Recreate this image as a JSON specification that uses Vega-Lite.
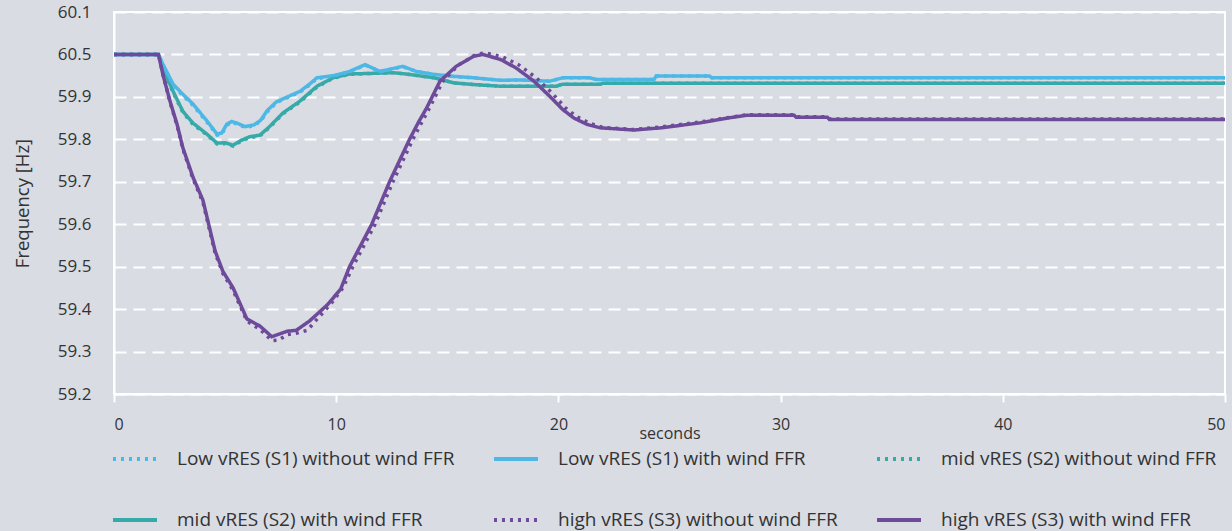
{
  "$schema": "https://vega.github.io/schema/vega-lite/v6.json",
  "width": 1111,
  "height": 382,
  "autosize": {"type": "none"},
  "padding": {"left": 114, "top": 12, "right": 7, "bottom": 137},
  "background": "#d9dce3",
  "config": {
    "view": {"stroke": "#ffffff", "strokeWidth": 2, "fill": "#d9dce3"},
    "font": "Open Sans"
  },
  "datasets": {
    "pts": [
      {"s": "mid vRES (S2) without wind FFR", "t": 0, "f": 60.0},
      {"s": "mid vRES (S2) without wind FFR", "t": 2, "f": 60.0},
      {"s": "mid vRES (S2) without wind FFR", "t": 2.2, "f": 59.966},
      {"s": "mid vRES (S2) without wind FFR", "t": 2.66, "f": 59.91},
      {"s": "mid vRES (S2) without wind FFR", "t": 3.1, "f": 59.863},
      {"s": "mid vRES (S2) without wind FFR", "t": 3.56, "f": 59.835},
      {"s": "mid vRES (S2) without wind FFR", "t": 4.19, "f": 59.81},
      {"s": "mid vRES (S2) without wind FFR", "t": 4.64, "f": 59.789},
      {"s": "mid vRES (S2) without wind FFR", "t": 5.0, "f": 59.79},
      {"s": "mid vRES (S2) without wind FFR", "t": 5.36, "f": 59.784},
      {"s": "mid vRES (S2) without wind FFR", "t": 5.7, "f": 59.795},
      {"s": "mid vRES (S2) without wind FFR", "t": 6.1, "f": 59.804},
      {"s": "mid vRES (S2) without wind FFR", "t": 6.57, "f": 59.808},
      {"s": "mid vRES (S2) without wind FFR", "t": 7.0, "f": 59.828},
      {"s": "mid vRES (S2) without wind FFR", "t": 7.6, "f": 59.86},
      {"s": "mid vRES (S2) without wind FFR", "t": 8.37, "f": 59.888},
      {"s": "mid vRES (S2) without wind FFR", "t": 9.13, "f": 59.923},
      {"s": "mid vRES (S2) without wind FFR", "t": 9.86, "f": 59.944},
      {"s": "mid vRES (S2) without wind FFR", "t": 10.6, "f": 59.953},
      {"s": "mid vRES (S2) without wind FFR", "t": 11.35, "f": 59.955},
      {"s": "mid vRES (S2) without wind FFR", "t": 12.57, "f": 59.957},
      {"s": "mid vRES (S2) without wind FFR", "t": 13.3, "f": 59.953},
      {"s": "mid vRES (S2) without wind FFR", "t": 14.4, "f": 59.945},
      {"s": "mid vRES (S2) without wind FFR", "t": 15.3, "f": 59.933},
      {"s": "mid vRES (S2) without wind FFR", "t": 16.2, "f": 59.929},
      {"s": "mid vRES (S2) without wind FFR", "t": 17.4, "f": 59.925},
      {"s": "mid vRES (S2) without wind FFR", "t": 19.9, "f": 59.925},
      {"s": "mid vRES (S2) without wind FFR", "t": 20.2, "f": 59.93},
      {"s": "mid vRES (S2) without wind FFR", "t": 21.9, "f": 59.93},
      {"s": "mid vRES (S2) without wind FFR", "t": 22.0, "f": 59.932},
      {"s": "mid vRES (S2) without wind FFR", "t": 50, "f": 59.932},

      {"s": "mid vRES (S2) with wind FFR", "t": 0, "f": 60.0},
      {"s": "mid vRES (S2) with wind FFR", "t": 2, "f": 60.0},
      {"s": "mid vRES (S2) with wind FFR", "t": 2.2, "f": 59.968},
      {"s": "mid vRES (S2) with wind FFR", "t": 2.66, "f": 59.913},
      {"s": "mid vRES (S2) with wind FFR", "t": 3.1, "f": 59.866},
      {"s": "mid vRES (S2) with wind FFR", "t": 3.56, "f": 59.838},
      {"s": "mid vRES (S2) with wind FFR", "t": 4.19, "f": 59.812},
      {"s": "mid vRES (S2) with wind FFR", "t": 4.64, "f": 59.791},
      {"s": "mid vRES (S2) with wind FFR", "t": 5.0, "f": 59.792},
      {"s": "mid vRES (S2) with wind FFR", "t": 5.36, "f": 59.786},
      {"s": "mid vRES (S2) with wind FFR", "t": 5.7, "f": 59.797},
      {"s": "mid vRES (S2) with wind FFR", "t": 6.1, "f": 59.806},
      {"s": "mid vRES (S2) with wind FFR", "t": 6.57, "f": 59.81},
      {"s": "mid vRES (S2) with wind FFR", "t": 7.0, "f": 59.83},
      {"s": "mid vRES (S2) with wind FFR", "t": 7.6, "f": 59.862},
      {"s": "mid vRES (S2) with wind FFR", "t": 8.37, "f": 59.89},
      {"s": "mid vRES (S2) with wind FFR", "t": 9.13, "f": 59.925},
      {"s": "mid vRES (S2) with wind FFR", "t": 9.86, "f": 59.945},
      {"s": "mid vRES (S2) with wind FFR", "t": 10.6, "f": 59.954},
      {"s": "mid vRES (S2) with wind FFR", "t": 11.35, "f": 59.955},
      {"s": "mid vRES (S2) with wind FFR", "t": 12.57, "f": 59.957},
      {"s": "mid vRES (S2) with wind FFR", "t": 13.3, "f": 59.953},
      {"s": "mid vRES (S2) with wind FFR", "t": 14.4, "f": 59.945},
      {"s": "mid vRES (S2) with wind FFR", "t": 15.3, "f": 59.933},
      {"s": "mid vRES (S2) with wind FFR", "t": 16.2, "f": 59.929},
      {"s": "mid vRES (S2) with wind FFR", "t": 17.4, "f": 59.925},
      {"s": "mid vRES (S2) with wind FFR", "t": 19.9, "f": 59.925},
      {"s": "mid vRES (S2) with wind FFR", "t": 20.2, "f": 59.93},
      {"s": "mid vRES (S2) with wind FFR", "t": 21.9, "f": 59.93},
      {"s": "mid vRES (S2) with wind FFR", "t": 22.0, "f": 59.932},
      {"s": "mid vRES (S2) with wind FFR", "t": 50, "f": 59.932},

      {"s": "Low vRES (S1) without wind FFR", "t": 0, "f": 60.0},
      {"s": "Low vRES (S1) without wind FFR", "t": 2, "f": 60.0},
      {"s": "Low vRES (S1) without wind FFR", "t": 2.2, "f": 59.975},
      {"s": "Low vRES (S1) without wind FFR", "t": 2.66, "f": 59.928},
      {"s": "Low vRES (S1) without wind FFR", "t": 3.1, "f": 59.903},
      {"s": "Low vRES (S1) without wind FFR", "t": 3.56, "f": 59.88},
      {"s": "Low vRES (S1) without wind FFR", "t": 4.19, "f": 59.84},
      {"s": "Low vRES (S1) without wind FFR", "t": 4.64, "f": 59.81},
      {"s": "Low vRES (S1) without wind FFR", "t": 4.85, "f": 59.812},
      {"s": "Low vRES (S1) without wind FFR", "t": 5.08, "f": 59.833},
      {"s": "Low vRES (S1) without wind FFR", "t": 5.3, "f": 59.84},
      {"s": "Low vRES (S1) without wind FFR", "t": 5.54, "f": 59.836},
      {"s": "Low vRES (S1) without wind FFR", "t": 5.9, "f": 59.828},
      {"s": "Low vRES (S1) without wind FFR", "t": 6.3, "f": 59.832},
      {"s": "Low vRES (S1) without wind FFR", "t": 6.6, "f": 59.843},
      {"s": "Low vRES (S1) without wind FFR", "t": 6.9, "f": 59.865},
      {"s": "Low vRES (S1) without wind FFR", "t": 7.3, "f": 59.886},
      {"s": "Low vRES (S1) without wind FFR", "t": 7.8, "f": 59.898},
      {"s": "Low vRES (S1) without wind FFR", "t": 8.37, "f": 59.911},
      {"s": "Low vRES (S1) without wind FFR", "t": 8.8, "f": 59.928},
      {"s": "Low vRES (S1) without wind FFR", "t": 9.13, "f": 59.943},
      {"s": "Low vRES (S1) without wind FFR", "t": 9.86, "f": 59.949},
      {"s": "Low vRES (S1) without wind FFR", "t": 10.6, "f": 59.959},
      {"s": "Low vRES (S1) without wind FFR", "t": 11.3, "f": 59.975},
      {"s": "Low vRES (S1) without wind FFR", "t": 11.97, "f": 59.96},
      {"s": "Low vRES (S1) without wind FFR", "t": 12.4, "f": 59.964},
      {"s": "Low vRES (S1) without wind FFR", "t": 13.0, "f": 59.971},
      {"s": "Low vRES (S1) without wind FFR", "t": 13.6, "f": 59.96},
      {"s": "Low vRES (S1) without wind FFR", "t": 14.4, "f": 59.953},
      {"s": "Low vRES (S1) without wind FFR", "t": 15.1, "f": 59.949},
      {"s": "Low vRES (S1) without wind FFR", "t": 16.2, "f": 59.945},
      {"s": "Low vRES (S1) without wind FFR", "t": 17.4, "f": 59.939},
      {"s": "Low vRES (S1) without wind FFR", "t": 18.3, "f": 59.94},
      {"s": "Low vRES (S1) without wind FFR", "t": 19.6, "f": 59.937},
      {"s": "Low vRES (S1) without wind FFR", "t": 20.2, "f": 59.945},
      {"s": "Low vRES (S1) without wind FFR", "t": 21.4, "f": 59.945},
      {"s": "Low vRES (S1) without wind FFR", "t": 21.7, "f": 59.941},
      {"s": "Low vRES (S1) without wind FFR", "t": 24.3, "f": 59.941},
      {"s": "Low vRES (S1) without wind FFR", "t": 24.4, "f": 59.949},
      {"s": "Low vRES (S1) without wind FFR", "t": 26.8, "f": 59.949},
      {"s": "Low vRES (S1) without wind FFR", "t": 26.9, "f": 59.945},
      {"s": "Low vRES (S1) without wind FFR", "t": 50, "f": 59.945},

      {"s": "Low vRES (S1) with wind FFR", "t": 0, "f": 60.0},
      {"s": "Low vRES (S1) with wind FFR", "t": 2, "f": 60.0},
      {"s": "Low vRES (S1) with wind FFR", "t": 2.2, "f": 59.977},
      {"s": "Low vRES (S1) with wind FFR", "t": 2.66, "f": 59.93},
      {"s": "Low vRES (S1) with wind FFR", "t": 3.1, "f": 59.906},
      {"s": "Low vRES (S1) with wind FFR", "t": 3.56, "f": 59.883},
      {"s": "Low vRES (S1) with wind FFR", "t": 4.19, "f": 59.843},
      {"s": "Low vRES (S1) with wind FFR", "t": 4.64, "f": 59.812},
      {"s": "Low vRES (S1) with wind FFR", "t": 4.85, "f": 59.815},
      {"s": "Low vRES (S1) with wind FFR", "t": 5.08, "f": 59.836},
      {"s": "Low vRES (S1) with wind FFR", "t": 5.3, "f": 59.842},
      {"s": "Low vRES (S1) with wind FFR", "t": 5.54, "f": 59.838},
      {"s": "Low vRES (S1) with wind FFR", "t": 5.9, "f": 59.83},
      {"s": "Low vRES (S1) with wind FFR", "t": 6.3, "f": 59.834},
      {"s": "Low vRES (S1) with wind FFR", "t": 6.6, "f": 59.845},
      {"s": "Low vRES (S1) with wind FFR", "t": 6.9, "f": 59.868},
      {"s": "Low vRES (S1) with wind FFR", "t": 7.3, "f": 59.888},
      {"s": "Low vRES (S1) with wind FFR", "t": 7.8, "f": 59.9},
      {"s": "Low vRES (S1) with wind FFR", "t": 8.37, "f": 59.913},
      {"s": "Low vRES (S1) with wind FFR", "t": 8.8, "f": 59.93},
      {"s": "Low vRES (S1) with wind FFR", "t": 9.13, "f": 59.945},
      {"s": "Low vRES (S1) with wind FFR", "t": 9.86, "f": 59.95},
      {"s": "Low vRES (S1) with wind FFR", "t": 10.6, "f": 59.96},
      {"s": "Low vRES (S1) with wind FFR", "t": 11.3, "f": 59.976},
      {"s": "Low vRES (S1) with wind FFR", "t": 11.97, "f": 59.96},
      {"s": "Low vRES (S1) with wind FFR", "t": 12.4, "f": 59.965},
      {"s": "Low vRES (S1) with wind FFR", "t": 13.0, "f": 59.972},
      {"s": "Low vRES (S1) with wind FFR", "t": 13.6, "f": 59.96},
      {"s": "Low vRES (S1) with wind FFR", "t": 14.4, "f": 59.953},
      {"s": "Low vRES (S1) with wind FFR", "t": 15.1, "f": 59.949},
      {"s": "Low vRES (S1) with wind FFR", "t": 16.2, "f": 59.945},
      {"s": "Low vRES (S1) with wind FFR", "t": 17.4, "f": 59.939},
      {"s": "Low vRES (S1) with wind FFR", "t": 18.3, "f": 59.94},
      {"s": "Low vRES (S1) with wind FFR", "t": 19.6, "f": 59.937},
      {"s": "Low vRES (S1) with wind FFR", "t": 20.2, "f": 59.945},
      {"s": "Low vRES (S1) with wind FFR", "t": 21.4, "f": 59.945},
      {"s": "Low vRES (S1) with wind FFR", "t": 21.7, "f": 59.941},
      {"s": "Low vRES (S1) with wind FFR", "t": 24.3, "f": 59.941},
      {"s": "Low vRES (S1) with wind FFR", "t": 24.4, "f": 59.949},
      {"s": "Low vRES (S1) with wind FFR", "t": 26.8, "f": 59.949},
      {"s": "Low vRES (S1) with wind FFR", "t": 26.9, "f": 59.945},
      {"s": "Low vRES (S1) with wind FFR", "t": 50, "f": 59.945},

      {"s": "high vRES (S3) without wind FFR", "t": 0, "f": 60.0},
      {"s": "high vRES (S3) without wind FFR", "t": 2, "f": 60.0},
      {"s": "high vRES (S3) without wind FFR", "t": 2.2, "f": 59.953},
      {"s": "high vRES (S3) without wind FFR", "t": 2.52, "f": 59.888},
      {"s": "high vRES (S3) without wind FFR", "t": 2.84, "f": 59.832},
      {"s": "high vRES (S3) without wind FFR", "t": 3.1, "f": 59.777},
      {"s": "high vRES (S3) without wind FFR", "t": 3.56, "f": 59.706},
      {"s": "high vRES (S3) without wind FFR", "t": 4.0, "f": 59.652},
      {"s": "high vRES (S3) without wind FFR", "t": 4.55, "f": 59.532},
      {"s": "high vRES (S3) without wind FFR", "t": 4.9, "f": 59.484},
      {"s": "high vRES (S3) without wind FFR", "t": 5.36, "f": 59.444},
      {"s": "high vRES (S3) without wind FFR", "t": 5.98, "f": 59.372},
      {"s": "high vRES (S3) without wind FFR", "t": 6.57, "f": 59.352},
      {"s": "high vRES (S3) without wind FFR", "t": 7.1, "f": 59.326},
      {"s": "high vRES (S3) without wind FFR", "t": 7.4, "f": 59.327},
      {"s": "high vRES (S3) without wind FFR", "t": 7.8, "f": 59.34},
      {"s": "high vRES (S3) without wind FFR", "t": 8.2, "f": 59.343},
      {"s": "high vRES (S3) without wind FFR", "t": 8.7, "f": 59.35},
      {"s": "high vRES (S3) without wind FFR", "t": 9.27, "f": 59.384},
      {"s": "high vRES (S3) without wind FFR", "t": 9.8, "f": 59.415},
      {"s": "high vRES (S3) without wind FFR", "t": 10.3, "f": 59.45},
      {"s": "high vRES (S3) without wind FFR", "t": 10.75, "f": 59.5},
      {"s": "high vRES (S3) without wind FFR", "t": 11.25, "f": 59.55},
      {"s": "high vRES (S3) without wind FFR", "t": 11.75, "f": 59.6},
      {"s": "high vRES (S3) without wind FFR", "t": 12.15, "f": 59.65},
      {"s": "high vRES (S3) without wind FFR", "t": 12.55, "f": 59.7},
      {"s": "high vRES (S3) without wind FFR", "t": 13.0, "f": 59.75},
      {"s": "high vRES (S3) without wind FFR", "t": 13.45, "f": 59.8},
      {"s": "high vRES (S3) without wind FFR", "t": 13.85, "f": 59.84},
      {"s": "high vRES (S3) without wind FFR", "t": 14.2, "f": 59.874},
      {"s": "high vRES (S3) without wind FFR", "t": 14.8, "f": 59.937},
      {"s": "high vRES (S3) without wind FFR", "t": 15.5, "f": 59.975},
      {"s": "high vRES (S3) without wind FFR", "t": 16.3, "f": 60.0},
      {"s": "high vRES (S3) without wind FFR", "t": 16.7, "f": 60.004},
      {"s": "high vRES (S3) without wind FFR", "t": 17.5, "f": 59.994},
      {"s": "high vRES (S3) without wind FFR", "t": 18.2, "f": 59.976},
      {"s": "high vRES (S3) without wind FFR", "t": 19.0, "f": 59.945},
      {"s": "high vRES (S3) without wind FFR", "t": 19.7, "f": 59.91},
      {"s": "high vRES (S3) without wind FFR", "t": 20.3, "f": 59.875},
      {"s": "high vRES (S3) without wind FFR", "t": 20.8, "f": 59.854},
      {"s": "high vRES (S3) without wind FFR", "t": 21.4, "f": 59.838},
      {"s": "high vRES (S3) without wind FFR", "t": 22.0, "f": 59.828},
      {"s": "high vRES (S3) without wind FFR", "t": 23.4, "f": 59.823},
      {"s": "high vRES (S3) without wind FFR", "t": 24.6, "f": 59.829},
      {"s": "high vRES (S3) without wind FFR", "t": 25.5, "f": 59.835},
      {"s": "high vRES (S3) without wind FFR", "t": 26.4, "f": 59.841},
      {"s": "high vRES (S3) without wind FFR", "t": 27.6, "f": 59.851},
      {"s": "high vRES (S3) without wind FFR", "t": 28.5, "f": 59.858},
      {"s": "high vRES (S3) without wind FFR", "t": 30.6, "f": 59.858},
      {"s": "high vRES (S3) without wind FFR", "t": 30.7, "f": 59.853},
      {"s": "high vRES (S3) without wind FFR", "t": 32.1, "f": 59.853},
      {"s": "high vRES (S3) without wind FFR", "t": 32.2, "f": 59.848},
      {"s": "high vRES (S3) without wind FFR", "t": 50, "f": 59.848},

      {"s": "high vRES (S3) with wind FFR", "t": 0, "f": 60.0},
      {"s": "high vRES (S3) with wind FFR", "t": 2, "f": 60.0},
      {"s": "high vRES (S3) with wind FFR", "t": 2.2, "f": 59.953},
      {"s": "high vRES (S3) with wind FFR", "t": 2.52, "f": 59.89},
      {"s": "high vRES (S3) with wind FFR", "t": 2.84, "f": 59.835},
      {"s": "high vRES (S3) with wind FFR", "t": 3.1, "f": 59.78},
      {"s": "high vRES (S3) with wind FFR", "t": 3.56, "f": 59.71},
      {"s": "high vRES (S3) with wind FFR", "t": 4.0, "f": 59.657},
      {"s": "high vRES (S3) with wind FFR", "t": 4.55, "f": 59.537},
      {"s": "high vRES (S3) with wind FFR", "t": 4.9, "f": 59.489},
      {"s": "high vRES (S3) with wind FFR", "t": 5.36, "f": 59.45},
      {"s": "high vRES (S3) with wind FFR", "t": 5.98, "f": 59.377},
      {"s": "high vRES (S3) with wind FFR", "t": 6.57, "f": 59.36},
      {"s": "high vRES (S3) with wind FFR", "t": 7.1, "f": 59.335},
      {"s": "high vRES (S3) with wind FFR", "t": 7.8, "f": 59.348},
      {"s": "high vRES (S3) with wind FFR", "t": 8.2, "f": 59.35},
      {"s": "high vRES (S3) with wind FFR", "t": 8.8, "f": 59.372},
      {"s": "high vRES (S3) with wind FFR", "t": 9.6, "f": 59.41},
      {"s": "high vRES (S3) with wind FFR", "t": 10.2, "f": 59.447},
      {"s": "high vRES (S3) with wind FFR", "t": 10.6, "f": 59.5},
      {"s": "high vRES (S3) with wind FFR", "t": 11.1, "f": 59.55},
      {"s": "high vRES (S3) with wind FFR", "t": 11.6, "f": 59.6},
      {"s": "high vRES (S3) with wind FFR", "t": 12.0, "f": 59.65},
      {"s": "high vRES (S3) with wind FFR", "t": 12.4, "f": 59.7},
      {"s": "high vRES (S3) with wind FFR", "t": 12.85, "f": 59.75},
      {"s": "high vRES (S3) with wind FFR", "t": 13.3, "f": 59.8},
      {"s": "high vRES (S3) with wind FFR", "t": 13.7, "f": 59.84},
      {"s": "high vRES (S3) with wind FFR", "t": 14.07, "f": 59.874},
      {"s": "high vRES (S3) with wind FFR", "t": 14.67, "f": 59.937},
      {"s": "high vRES (S3) with wind FFR", "t": 15.4, "f": 59.972},
      {"s": "high vRES (S3) with wind FFR", "t": 16.2, "f": 59.996},
      {"s": "high vRES (S3) with wind FFR", "t": 16.6, "f": 60.0},
      {"s": "high vRES (S3) with wind FFR", "t": 17.4, "f": 59.988},
      {"s": "high vRES (S3) with wind FFR", "t": 18.1, "f": 59.968},
      {"s": "high vRES (S3) with wind FFR", "t": 18.9, "f": 59.937},
      {"s": "high vRES (S3) with wind FFR", "t": 19.6, "f": 59.902},
      {"s": "high vRES (S3) with wind FFR", "t": 20.2, "f": 59.87},
      {"s": "high vRES (S3) with wind FFR", "t": 20.7, "f": 59.85},
      {"s": "high vRES (S3) with wind FFR", "t": 21.3, "f": 59.835},
      {"s": "high vRES (S3) with wind FFR", "t": 21.9, "f": 59.827},
      {"s": "high vRES (S3) with wind FFR", "t": 23.4, "f": 59.822},
      {"s": "high vRES (S3) with wind FFR", "t": 24.6, "f": 59.827},
      {"s": "high vRES (S3) with wind FFR", "t": 25.5, "f": 59.833},
      {"s": "high vRES (S3) with wind FFR", "t": 26.4, "f": 59.839},
      {"s": "high vRES (S3) with wind FFR", "t": 27.6, "f": 59.85},
      {"s": "high vRES (S3) with wind FFR", "t": 28.5, "f": 59.857},
      {"s": "high vRES (S3) with wind FFR", "t": 30.6, "f": 59.857},
      {"s": "high vRES (S3) with wind FFR", "t": 30.7, "f": 59.852},
      {"s": "high vRES (S3) with wind FFR", "t": 32.1, "f": 59.852},
      {"s": "high vRES (S3) with wind FFR", "t": 32.2, "f": 59.847},
      {"s": "high vRES (S3) with wind FFR", "t": 50, "f": 59.847}
    ]
  },
  "data": {"name": "pts"},
  "mark": {"type": "line", "strokeWidth": 3.5, "clip": true},
  "encoding": {
    "x": {
      "field": "t",
      "type": "quantitative",
      "scale": {"domain": [0, 50], "nice": false},
      "axis": {
        "values": [0, 10, 20, 30, 40, 50],
        "title": "seconds",
        "grid": false,
        "domain": true,
        "domainColor": "#ffffff",
        "domainWidth": 2,
        "ticks": true,
        "tickColor": "#ffffff",
        "tickSize": 8,
        "tickWidth": 2,
        "labelFontSize": 16,
        "labelColor": "#333333",
        "labelPadding": 14,
        "titleFontSize": 16,
        "titleColor": "#333333",
        "titleFontWeight": "normal",
        "titlePadding": -7
      }
    },
    "y": {
      "field": "f",
      "type": "quantitative",
      "scale": {"domain": [59.2, 60.1], "nice": false, "zero": false},
      "axis": {
        "values": [59.2, 59.3, 59.4, 59.5, 59.6, 59.7, 59.8, 59.9, 60.0, 60.1],
        "labelExpr": "datum.value == 60 ? '60.5' : format(datum.value, '.1f')",
        "grid": true,
        "gridColor": "#ffffff",
        "gridDash": [12, 7],
        "gridWidth": 2,
        "gridOpacity": 1,
        "domain": true,
        "domainColor": "#ffffff",
        "domainWidth": 2,
        "ticks": false,
        "labelFontSize": 17,
        "labelColor": "#333333",
        "labelPadding": 23,
        "title": "Frequency [Hz]",
        "titleFontSize": 18.5,
        "titleColor": "#333333",
        "titleFontWeight": "normal",
        "titlePadding": 25
      }
    },
    "color": {
      "field": "s",
      "type": "nominal",
      "scale": {
        "domain": [
          "Low vRES (S1) without wind FFR",
          "Low vRES (S1) with wind FFR",
          "mid vRES (S2) without wind FFR",
          "mid vRES (S2) with wind FFR",
          "high vRES (S3) without wind FFR",
          "high vRES (S3) with wind FFR"
        ],
        "range": ["#4db8e6", "#4db8e6", "#36a9a9", "#36a9a9", "#6e4a9a", "#6e4a9a"]
      },
      "legend": {
        "title": null,
        "orient": "none",
        "direction": "horizontal",
        "legendX": -3,
        "legendY": 423,
        "columns": 3,
        "columnPadding": 31,
        "rowPadding": 27,
        "symbolType": "stroke",
        "symbolSize": 1936,
        "symbolStrokeWidth": 4,
        "labelOffset": 18,
        "labelFontSize": 19,
        "labelColor": "#333333",
        "labelLimit": 400
      }
    },
    "strokeDash": {
      "field": "s",
      "type": "nominal",
      "scale": {
        "domain": [
          "Low vRES (S1) without wind FFR",
          "Low vRES (S1) with wind FFR",
          "mid vRES (S2) without wind FFR",
          "mid vRES (S2) with wind FFR",
          "high vRES (S3) without wind FFR",
          "high vRES (S3) with wind FFR"
        ],
        "range": [[3, 5], [1, 0], [3, 5], [1, 0], [3, 5], [1, 0]]
      },
      "legend": {
        "title": null,
        "orient": "none",
        "direction": "horizontal",
        "legendX": -3,
        "legendY": 423,
        "columns": 3,
        "columnPadding": 31,
        "rowPadding": 27,
        "symbolType": "stroke",
        "symbolSize": 1936,
        "symbolStrokeWidth": 4,
        "labelOffset": 18,
        "labelFontSize": 19,
        "labelColor": "#333333",
        "labelLimit": 400
      }
    }
  }
}
